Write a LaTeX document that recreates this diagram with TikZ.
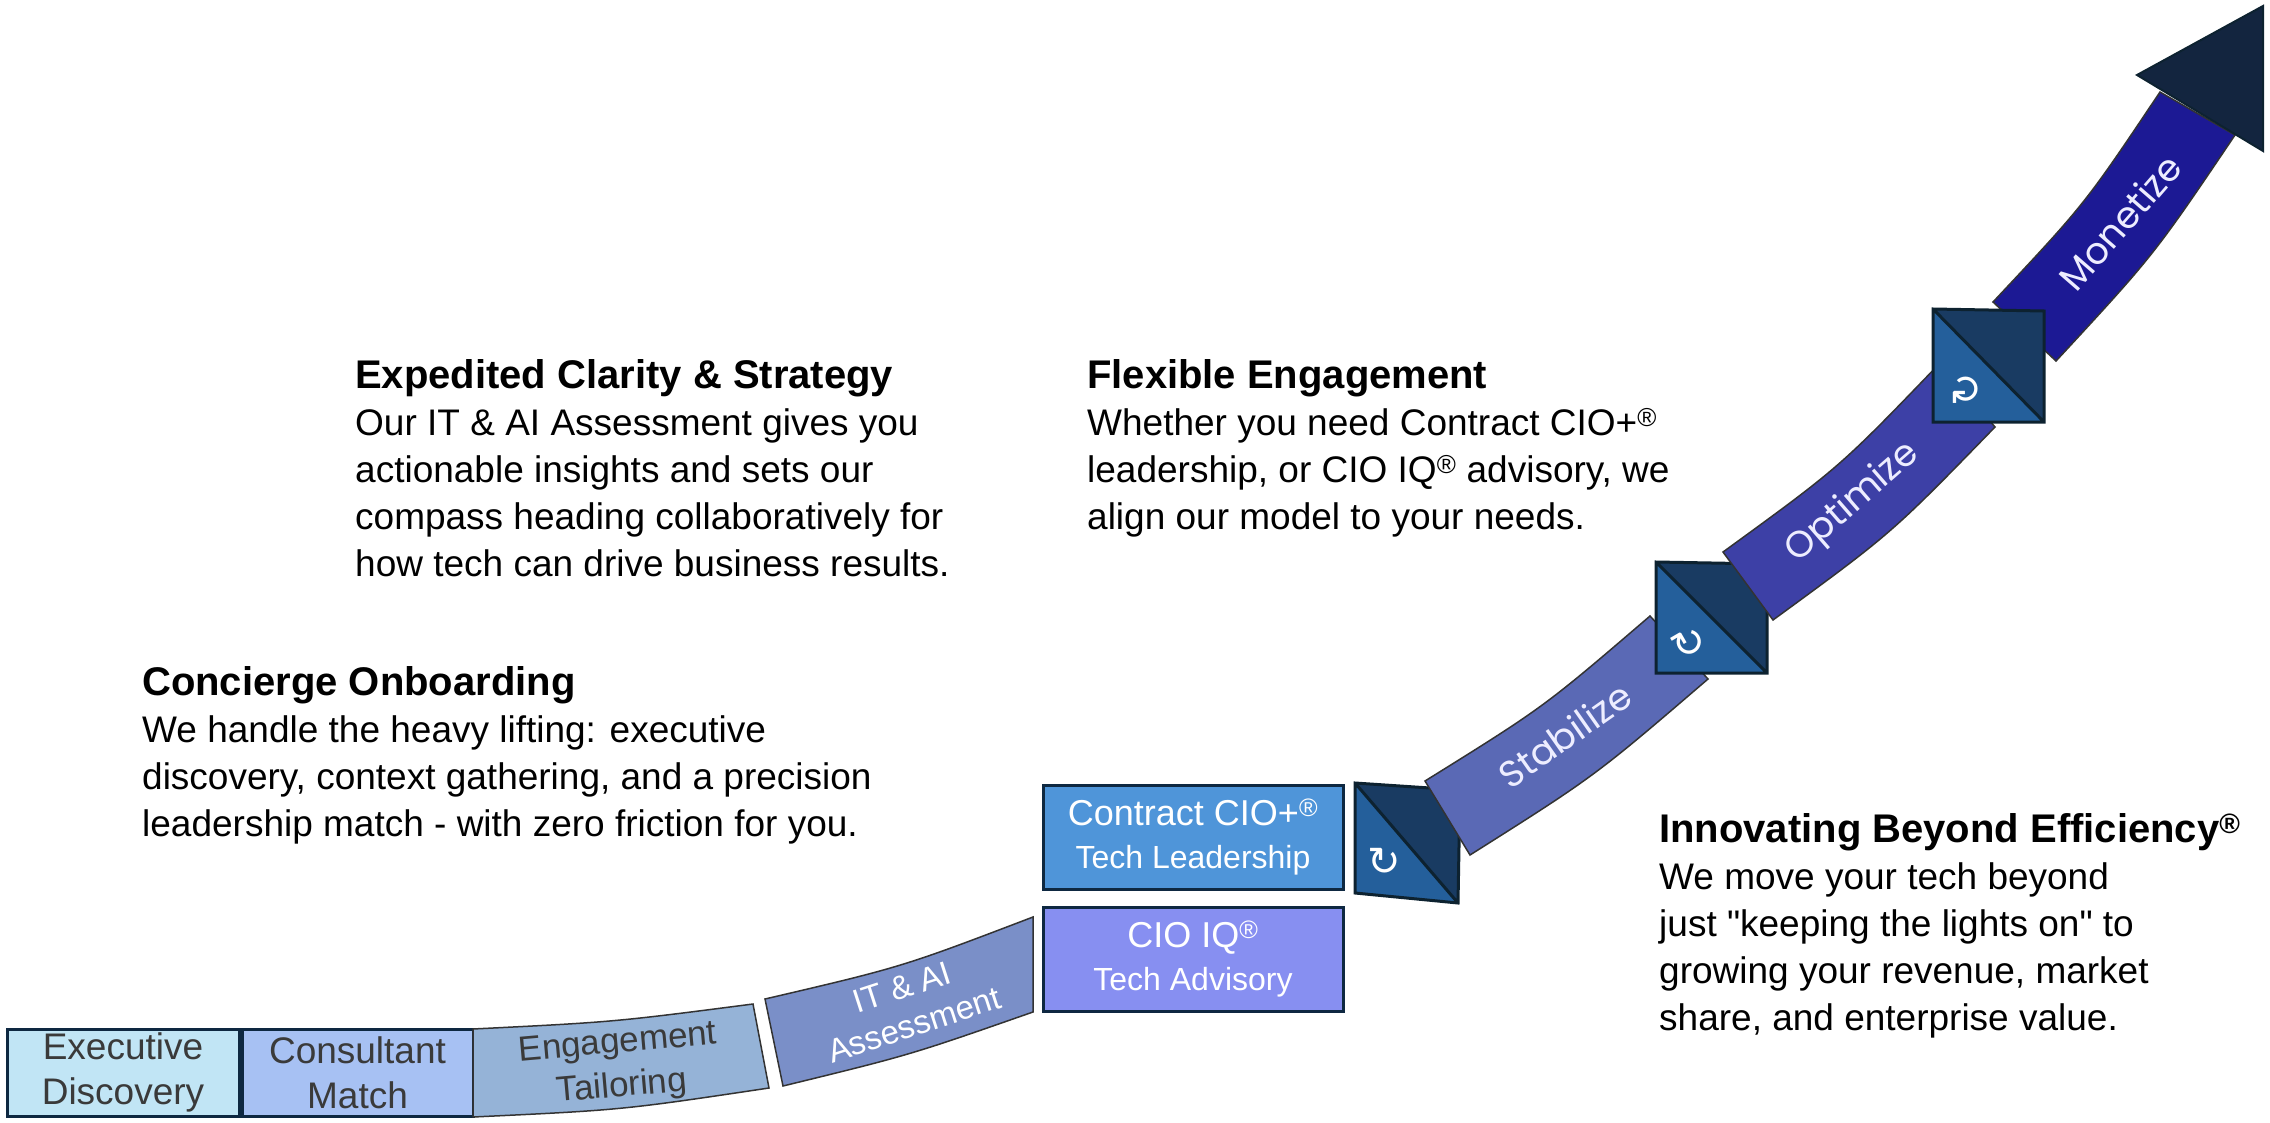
\documentclass[tikz,border=0pt]{standalone}
\usepackage{fontspec}
\setmainfont{Liberation Sans}[Ligatures=TeXOff]
\newfontfamily\bandfont{Poppins}
\newfontfamily\symfont{DejaVu Sans}
\usetikzlibrary{positioning}
\definecolor{navy}{HTML}{0E2841}
\definecolor{bandline}{HTML}{333333}
\definecolor{graytext}{HTML}{3A3A3A}
\definecolor{execfill}{HTML}{C1E5F5}
\definecolor{consfill}{HTML}{A7C1F3}
\definecolor{engfill}{HTML}{95B3D7}
\definecolor{itfill}{HTML}{7A8FC8}
\definecolor{contractfill}{HTML}{4F95D9}
\definecolor{iqfill}{HTML}{878FF1}
\definecolor{stabfill}{HTML}{5A69B5}
\definecolor{optfill}{HTML}{3D40A6}
\definecolor{monfill}{HTML}{1C1994}
\definecolor{headfill}{HTML}{13253F}
\definecolor{sqlight}{HTML}{245F9B}
\definecolor{sqdark}{HTML}{193B62}
\definecolor{sqline}{HTML}{0D2230}
\newcommand{\reg}{\textsuperscript{\textregistered}}

\begin{document}
\begin{tikzpicture}[
    x=1pt, y=-1pt,
    blurb/.style={anchor=north west, inner sep=0pt, align=left, font=\fontsize{37}{47}\selectfont},
    stepbox/.style={draw=navy, line width=3pt, inner sep=0pt, align=center, text=graytext, minimum height=87pt, font=\fontsize{37}{45}\selectfont},
    svcbox/.style={draw=navy, line width=3pt, inner sep=0pt, align=center, text=white, minimum width=300pt, minimum height=104pt, font=\fontsize{32}{43}\selectfont},
    band/.style={draw=bandline, line width=1.5pt},
    bandlbl/.style={inner sep=0pt, align=center, font=\fontsize{35}{44}\selectfont},
    phase/.style={inner sep=0pt, text=white!93!blue, font=\bandfont\fontsize{37}{40}\selectfont},
    cyc/.style={inner sep=0pt, text=white, font=\symfont\fontsize{40}{40}\selectfont},
    sqedge/.style={draw=sqline, line width=3pt, line join=miter}
]
\useasboundingbox (0,0) rectangle (2270,1123);

\node[blurb] (clarity) at (355,359) {{\textbf{\fontsize{40}{47}\selectfont Expedited Clarity \& Strategy}}\\Our IT \& AI Assessment gives you\\actionable insights and sets our\\compass heading collaboratively for\\how tech can drive business results.};
\node[blurb] (flexible) at (1087,359) {{\textbf{\fontsize{40}{47}\selectfont Flexible Engagement}}\\Whether you need Contract CIO+\reg\\leadership, or CIO IQ\reg{} advisory, we\\align our model to your needs.};
\node[blurb] (concierge) at (142,666) {{\textbf{\fontsize{40}{47}\selectfont Concierge Onboarding}}\\We handle the heavy lifting: executive\\discovery, context gathering, and a precision\\leadership match - with zero friction for you.};
\node[blurb] (innovating) at (1659,813) {{\textbf{\fontsize{40}{47}\selectfont Innovating Beyond Efficiency\reg}}\\We move your tech beyond\\just "keeping the lights on" to\\growing your revenue, market\\share, and enterprise value.};

\node[stepbox, fill=execfill, minimum width=232pt] (exec) at (123,1072.5) {Executive\\Discovery};
\node[stepbox, fill=consfill, minimum width=231pt, right=0pt of exec] (consult) {Consultant\\Match};

\draw[band, fill=engfill] (473,1029) .. controls (614,1022) .. (753,1004) -- (769,1088) .. controls (622,1110) .. (473,1117) -- cycle;
\node[bandlbl, text=graytext, rotate=5] (tailor) at (620,1066) {Engagement\\Tailoring};
\draw[band, fill=itfill] (765,999) .. controls (902,967) .. (1033,917) -- (1033,1012) .. controls (910,1055) .. (783,1086) -- cycle;
\node[bandlbl, text=white, rotate=18, font=\fontsize{33}{39}\selectfont] (assess) at (908,1006) {IT \& AI\\Assessment};

\node[svcbox, fill=contractfill] (contract) at (1193,837) {{\fontsize{36}{43}\selectfont Contract CIO+\reg}\\Tech Leadership};
\node[svcbox, fill=iqfill, below=15pt of contract] (cioiq) {{\fontsize{36}{43}\selectfont CIO IQ\reg}\\Tech Advisory};

\fill[sqlight] (1355,783) -- (1458,903) -- (1355,893) -- cycle;
\fill[sqdark] (1355,783) -- (1460,790) -- (1458,903) -- cycle;
\draw[sqedge] (1355,783) -- (1460,790) -- (1458,903) -- (1355,893) -- cycle (1355,783) -- (1458,903);
\node[cyc] (cyc1) at (1384,862) {↻};

\draw[band, fill=stabfill] (1425,781) .. controls (1544,707) .. (1650,616) -- (1708,679) .. controls (1595,776) .. (1470,855) -- cycle;
\node[phase, rotate=35] (stabilize) at (1565,735) {Stabilize};

\fill[sqlight] (1656,562) -- (1767,673) -- (1656,673) -- cycle;
\fill[sqdark] (1656,562) -- (1767,564) -- (1767,673) -- cycle;
\draw[sqedge] (1656,562) -- (1767,564) -- (1767,673) -- (1656,673) -- cycle (1656,562) -- (1767,673);
\node[cyc, rotate=30] (cyc2) at (1689,643) {↻};

\draw[band, fill=optfill] (1723,552) .. controls (1840,467) .. (1940,363) -- (1995,427) .. controls (1892,533) .. (1773,620) -- cycle;
\node[phase, rotate=41] (optimize) at (1853,503) {Optimize};

\draw[band, fill=monfill] (1993,302) .. controls (2085,204) .. (2160,92) -- (2235,135) .. controls (2154,255) .. (2056,361) -- cycle;
\node[phase, rotate=49] (monetize) at (2120,222) {Monetize};
\draw[draw=sqline, line width=2pt, fill=headfill, line join=miter] (2137,75) -- (2263,6) -- (2263,151) -- cycle;

\fill[sqlight] (1933,309) -- (2044,422) -- (1933,422) -- cycle;
\fill[sqdark] (1933,309) -- (2044,311) -- (2044,422) -- cycle;
\draw[sqedge] (1933,309) -- (2044,311) -- (2044,422) -- (1933,422) -- cycle (1933,309) -- (2044,422);
\node[cyc, rotate=90] (cyc3) at (1967,390) {↻};
\end{tikzpicture}
\end{document}
